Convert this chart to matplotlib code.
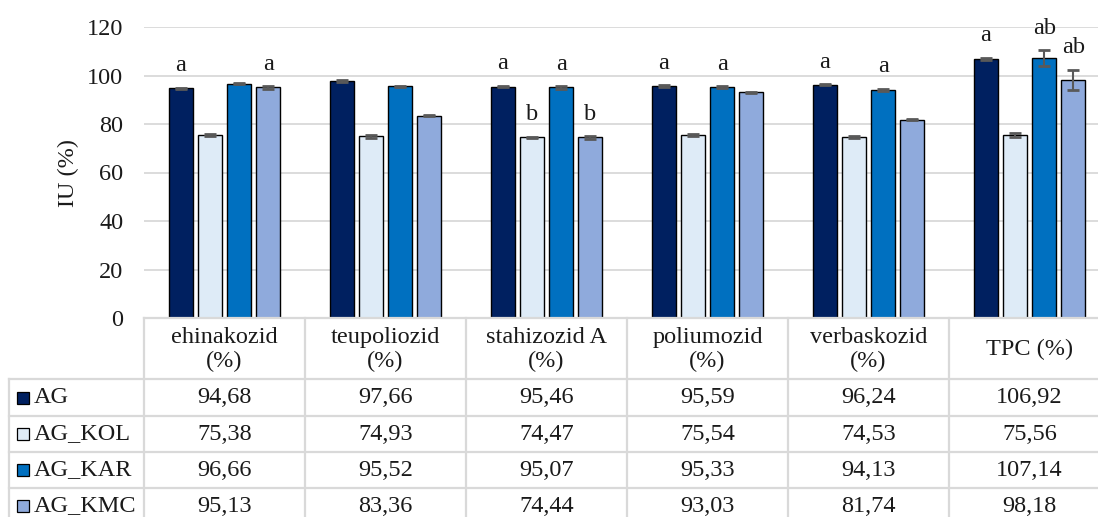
import matplotlib
matplotlib.use("Agg")
import matplotlib.pyplot as plt
import numpy as np
from matplotlib.lines import Line2D
from matplotlib.patches import Rectangle
import matplotlib.transforms as mtransforms

plt.rcParams['font.family'] = ['Liberation Serif', 'DejaVu Serif']

categories = ["ehinakozid\n(%)", "teupoliozid\n(%)", "stahizozid A\n(%)",
              "poliumozid\n(%)", "verbaskozid\n(%)", "TPC (%)"]
series_names = ["AG", "AG_KOL", "AG_KAR", "AG_KMC"]
values = {
    "AG":     [94.68, 97.66, 95.46, 95.59, 96.24, 106.92],
    "AG_KOL": [75.38, 74.93, 74.47, 75.54, 74.53, 75.56],
    "AG_KAR": [96.66, 95.52, 95.07, 95.33, 94.13, 107.14],
    "AG_KMC": [95.13, 83.36, 74.44, 93.03, 81.74, 98.18],
}
errors = {
    "AG":     [0.3, 0.4, 0.3, 0.3, 0.3, 0.4],
    "AG_KOL": [0.4, 0.6, 0.3, 0.3, 0.5, 0.9],
    "AG_KAR": [0.3, 0.3, 0.5, 0.3, 0.4, 3.3],
    "AG_KMC": [0.6, 0.2, 0.6, 0.2, 0.2, 4.2],
}
table_text = {
    "AG":     ["94,68", "97,66", "95,46", "95,59", "96,24", "106,92"],
    "AG_KOL": ["75,38", "74,93", "74,47", "75,54", "74,53", "75,56"],
    "AG_KAR": ["96,66", "95,52", "95,07", "95,33", "94,13", "107,14"],
    "AG_KMC": ["95,13", "83,36", "74,44", "93,03", "81,74", "98,18"],
}
colors = ["#002060", "#DEEBF7", "#0070C0", "#8FAADC"]
# significance letters: (category index, series index, letter)
letters = [(0, 0, "a"), (0, 3, "a"),
           (2, 0, "a"), (2, 1, "b"), (2, 2, "a"), (2, 3, "b"),
           (3, 0, "a"), (3, 2, "a"),
           (4, 0, "a"), (4, 2, "a"),
           (5, 0, "a"), (5, 2, "ab"), (5, 3, "ab")]
yticks = [0, 20, 40, 60, 80, 100, 120]

FS = 17.5
TXT = '#1a1a1a'
W, H = 1098, 517
fig = plt.figure(figsize=(W / 100, H / 100), dpi=100)

def fy(px):
    return 1 - px / H

def fx(px):
    return px / W

ax_left, ax_right = 144, 1110
ax_top, ax_bot = 27, 318
ax = fig.add_axes([fx(ax_left), fy(ax_bot), (ax_right - ax_left) / W, (ax_bot - ax_top) / H])
ax.set_xlim(-0.5, len(categories) - 0.5)
ax.set_ylim(0, 120)
ax.set_yticks(yticks)
ax.set_yticklabels([str(t) for t in yticks], fontsize=FS)
ax.tick_params(axis='y', length=0, pad=15, colors=TXT)
ax.set_xticks([])
for s in ax.spines.values():
    s.set_visible(False)
ax.grid(axis='y', color='#D9D9D9', linewidth=1.3)
ax.set_axisbelow(True)

x = np.arange(len(categories))
step = 0.182
bw = 0.149
offsets = (np.arange(4) - 1.5) * step
for i, name in enumerate(series_names):
    ax.bar(x + offsets[i], values[name], bw, color=colors[i], edgecolor='black',
           linewidth=1.0, zorder=2)
    ax.errorbar(x + offsets[i], values[name], yerr=errors[name], fmt='none',
                ecolor='#595959', elinewidth=1.5, capsize=4.5, capthick=2.0, zorder=3)

for (ci, si, lab) in letters:
    name = series_names[si]
    yv = values[name][ci] + errors[name][ci] + 9
    ax.text(x[ci] + offsets[si], yv, lab, ha='center', va='center', fontsize=FS,
            color=TXT, clip_on=False)

fig.text(fx(68), fy(173), "IU (%)", rotation=90, ha='center', va='center',
         fontsize=FS, color=TXT)

# ---- data table ----
blend = mtransforms.blended_transform_factory(ax.transData, fig.transFigure)
grid_c = '#D9D9D9'
lw = 1.6
row_lines = [318, 379, 416, 452, 488, 524]
label_left = 9

def hline(x0_fig, x1_fig, ypx):
    fig.add_artist(Line2D([x0_fig, x1_fig], [fy(ypx), fy(ypx)], color=grid_c, lw=lw,
                          transform=fig.transFigure))

def vline(xfig, y0px, y1px):
    fig.add_artist(Line2D([xfig, xfig], [fy(y0px), fy(y1px)], color=grid_c, lw=lw,
                          transform=fig.transFigure))

hline(fx(ax_left), fx(ax_right), row_lines[0])
for r in row_lines[1:]:
    hline(fx(label_left), fx(ax_right), r)
vline(fx(label_left), row_lines[1], row_lines[-1])
for b in np.arange(len(categories) + 1) - 0.5:
    xf = fig.transFigure.inverted().transform(ax.transData.transform((b, 0)))[0]
    vline(xf, row_lines[0], row_lines[-1])

hdr_c = (row_lines[0] + row_lines[1]) / 2
for i, c in enumerate(categories):
    fig.text(x[i], fy(hdr_c + 1), c, transform=blend, ha='center', va='center',
             fontsize=FS, color=TXT, linespacing=1.15)

for r, name in enumerate(series_names):
    yc = (row_lines[r + 1] + row_lines[r + 2]) / 2
    fig.add_artist(Rectangle((fx(17), fy(yc + 6)), 12 / W, 12 / H, facecolor=colors[r],
                             edgecolor='black', lw=0.9, transform=fig.transFigure))
    fig.text(fx(34), fy(yc), name, ha='left', va='center', fontsize=FS, color=TXT)
    for i in range(len(categories)):
        fig.text(x[i], fy(yc), table_text[name][i], transform=blend, ha='center',
                 va='center', fontsize=FS, color=TXT)

fig.savefig("out.png", dpi=100)
